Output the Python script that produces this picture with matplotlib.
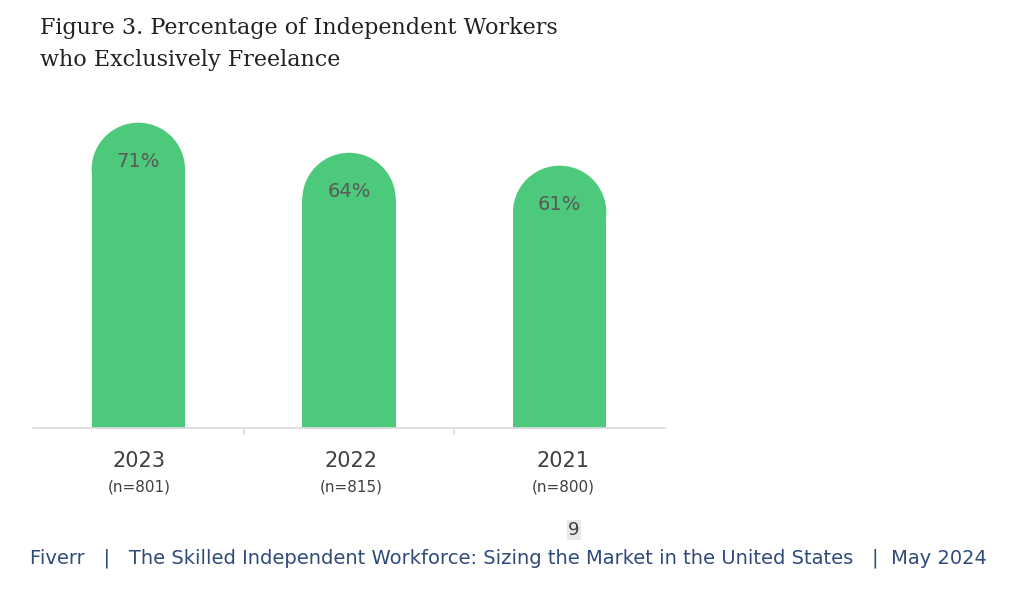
import matplotlib
matplotlib.use("Agg")
import matplotlib.pyplot as plt
from matplotlib.patches import Rectangle, Ellipse

years = ["2023", "2022", "2021"]
samples = ["(n=801)", "(n=815)", "(n=800)"]
values = [71, 64, 61]

W, H = 1024, 591
fig = plt.figure(figsize=(W/100, H/100), dpi=100)
ax_px = (33, 163, 632, 400)  # left, bottom, width, height in px
ax = fig.add_axes([ax_px[0]/W, ax_px[1]/H, ax_px[2]/W, ax_px[3]/H])
ymax = ax_px[3] / 4.3
ax.set_xlim(-0.5, 2.5)
ax.set_ylim(0, ymax)
ax.axis("off")
green = "#4cc97a"
bw = 0.443
bw_px = bw * ax_px[2] / 3
r_data = (bw_px / 2) * ymax / ax_px[3]
for i, v in enumerate(values):
    ax.add_patch(Rectangle((i - bw/2, 0), bw, v - r_data, color=green, lw=0))
    ax.add_patch(Ellipse((i, v - r_data), bw, 2*r_data, color=green, lw=0))
    ax.text(i, v - 9, f"{v}%", ha="center", va="center", fontsize=14, color="#595959")
ax.plot([-0.5, 2.5], [0, 0], color="#d9d9d9", lw=1.2, clip_on=False)
for xt in [0.5, 1.5]:
    ax.plot([xt, xt], [0, -1.5], color="#d9d9d9", lw=1.2, clip_on=False)
for i, (y, s) in enumerate(zip(years, samples)):
    fig.text((33 + 212*i + 106)/W, 1 - 461/H, y, ha="center", va="center", fontsize=15, color="#404040")
    fig.text((33 + 212*i + 106)/W, 1 - 487/H, s, ha="center", va="center", fontsize=11, color="#404040")

fig.text(40/W, 1 - 28/H, "Figure 3. Percentage of Independent Workers", fontsize=16,
         family="DejaVu Serif", color="#222222", va="center")
fig.text(40/W, 1 - 60/H, "who Exclusively Freelance", fontsize=16,
         family="DejaVu Serif", color="#222222", va="center")
fig.text(574/W, 1 - 530/H, "9", ha="center", va="center", fontsize=13, color="#404040",
         bbox=dict(facecolor="#e8e8e8", edgecolor="none", pad=1))
fig.text(30/W, 1 - 558/H,
         "Fiverr   |   The Skilled Independent Workforce: Sizing the Market in the United States   |  May 2024",
         va="center", fontsize=14, color="#2f4b7c")
fig.savefig("out.png", dpi=100)
